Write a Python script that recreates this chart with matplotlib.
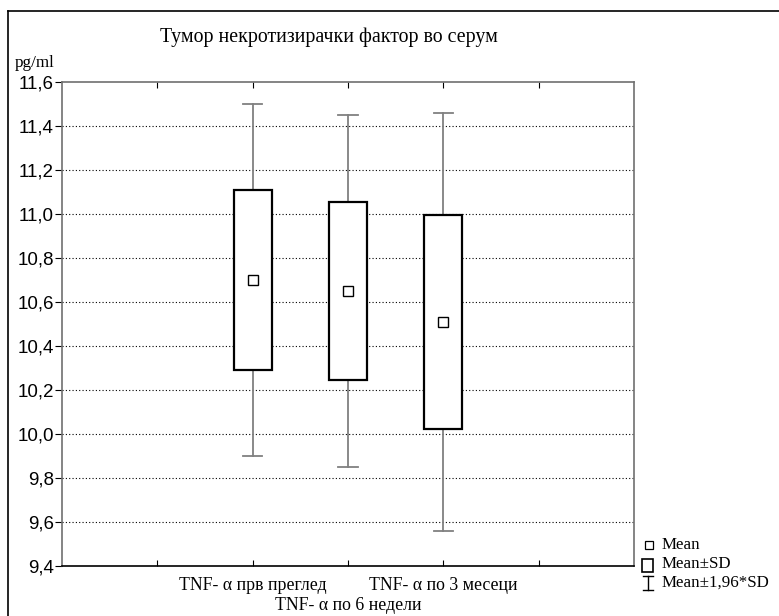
import matplotlib
matplotlib.use("Agg")
import matplotlib.pyplot as plt
from matplotlib.lines import Line2D
from matplotlib.patches import Rectangle

# values
labels = ["TNF- α прв преглед", "TNF- α по 6 недели", "TNF- α по 3 месеци"]
means = [10.70, 10.65, 10.51]
sd = [0.41, 0.405, 0.485]
sd196 = [0.80, 0.80, 0.95]
positions = [2, 3, 4]
yticks = [9.4, 9.6, 9.8, 10.0, 10.2, 10.4, 10.6, 10.8, 11.0, 11.2, 11.4, 11.6]

serif = "Liberation Serif"
sans = "Liberation Sans"
W, H = 779, 616

fig = plt.figure(figsize=(7.79, 6.16), dpi=100)
ax = fig.add_axes([62 / W, 1 - 566 / H, (634 - 62) / W, (566 - 82) / H])

ax.set_xlim(0, 6)
ax.set_ylim(9.4, 11.6)

# grid (dotted)
for v in yticks[1:-1]:
    ax.axhline(v, color="black", linestyle=(0, (1, 2)), linewidth=0.8, zorder=0)

for p, m, s, c in zip(positions, means, sd, sd196):
    # whiskers
    ax.plot([p, p], [m - c, m + c], color="#808080", linewidth=1.3, zorder=1)
    ax.plot([p - 0.1, p + 0.1], [m + c, m + c], color="#808080", linewidth=1.3, zorder=1)
    ax.plot([p - 0.1, p + 0.1], [m - c, m - c], color="#808080", linewidth=1.3, zorder=1)
    # SD box
    ax.add_patch(Rectangle((p - 0.2, m - s), 0.4, 2 * s, facecolor="white",
                           edgecolor="black", linewidth=1.6, zorder=2))
    # mean
    ax.plot(p, m, marker="s", markersize=7, markerfacecolor="white",
            markeredgecolor="black", markeredgewidth=1.0, zorder=3)

ax.set_yticks(yticks)
ax.set_yticklabels([f"{v:.1f}".replace(".", ",") for v in yticks], fontfamily=sans, fontsize=13.5)
ax.tick_params(axis="y", direction="out", length=5, width=0.8, pad=1)

ax.set_xticks([1, 2, 3, 4, 5])
ax.set_xticklabels([])
ax.tick_params(axis="x", direction="in", length=4, width=0.8, top=True, bottom=True)

# staggered category labels
for i, (p, lab) in enumerate(zip(positions, labels)):
    yy = 586 if i % 2 == 0 else 606
    ax.text(p, 1 - (yy - 82) / (566 - 82), lab, transform=ax.get_xaxis_transform(),
            ha="center", va="center", fontfamily=serif, fontsize=12.8)

for sp in ax.spines.values():
    sp.set_linewidth(1.2)
ax.spines["left"].set_color("#707070")
ax.spines["top"].set_color("#707070")
ax.spines["right"].set_color("#707070")

fig.text(160 / W, 1 - 37 / H, "Тумор некротизирачки фактор во серум",
         fontfamily=serif, fontsize=14.3, va="center", ha="left")
fig.text(15 / W, 1 - 63 / H, "pg/ml", fontfamily=serif, fontsize=12.3, va="center", ha="left")

# legend (manual)
fig.add_artist(Line2D([648.5 / W], [1 - 545 / H], marker="s", markersize=6,
                      markerfacecolor="white", markeredgecolor="black",
                      markeredgewidth=0.9, transform=fig.transFigure))
fig.add_artist(Rectangle((642 / W, 1 - 572 / H), 11 / W, 13 / H, transform=fig.transFigure,
                         facecolor="white", edgecolor="black", linewidth=1.2))
fig.add_artist(Line2D([648 / W, 648 / W], [1 - 590 / H, 1 - 576 / H], color="black",
                      linewidth=1.0, transform=fig.transFigure))
fig.add_artist(Line2D([643 / W, 653 / W], [1 - 576 / H, 1 - 576 / H], color="black",
                      linewidth=1.0, transform=fig.transFigure))
fig.add_artist(Line2D([643 / W, 653 / W], [1 - 590 / H, 1 - 590 / H], color="black",
                      linewidth=1.0, transform=fig.transFigure))
for yy, txt in [(545, "Mean"), (564, "Mean±SD"), (583, "Mean±1,96*SD")]:
    fig.text(662 / W, 1 - yy / H, txt, fontfamily=serif, fontsize=12.2, va="center", ha="left")

# frame lines (top and left) of the original picture
fig.add_artist(Line2D([8 / W, 1], [1 - 11 / H, 1 - 11 / H], color="black", linewidth=1.2,
                      transform=fig.transFigure))
fig.add_artist(Line2D([8 / W, 8 / W], [0, 1 - 11 / H], color="black", linewidth=1.2,
                      transform=fig.transFigure))

fig.savefig("out.png", dpi=100)
